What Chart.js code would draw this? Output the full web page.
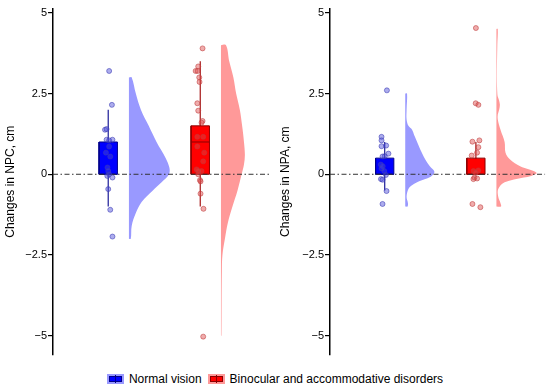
<!DOCTYPE html>
<html>
<head>
<meta charset="utf-8">
<script src="https://cdn.jsdelivr.net/npm/chart.js@4.4.1/dist/chart.umd.min.js"></script>
<style>
  body { margin: 0; background: #fff; }
  #wrap { position: relative; width: 550px; height: 388px; font-family: "Liberation Sans", Arial, sans-serif; }
  #npcChart { position: absolute; left: 0; top: 0; }
  #npaChart { position: absolute; left: 275px; top: 0; }
  #legend { position: absolute; left: 0; top: 372px; width: 550px; display: flex; justify-content: center; align-items: center; font-size: 12px; color: #000; }
  .key { position: relative; display: inline-block; width: 17px; height: 10px; margin-right: 5px; }
  .key i { position: absolute; left: 2px; top: 2px; width: 11px; height: 4px; border: 1px solid; }
  .key i:after { content: ""; position: absolute; left: 5px; top: -2px; width: 1px; height: 8px; }
  .key.blue { background: #9999ff; }
  .key.blue i { background: #0000ff; border-color: #00008b; }
  .key.blue i:after { background: #00008b; }
  .key.red { background: #ff9999; margin-left: 6px; }
  .key.red i { background: #ff0000; border-color: #8b0000; }
  .key.red i:after { background: #8b0000; }
</style>
</head>
<body>
<div id="wrap">
  <canvas id="npcChart" width="275" height="362"></canvas>
  <canvas id="npaChart" width="275" height="362"></canvas>
  <div id="legend">
    <span class="key blue"><i></i></span><span>Normal vision</span>
    <span class="key red"><i></i></span><span>Binocular and accommodative disorders</span>
  </div>
</div>
<script>
// groups and axis
const groups = ['Normal vision', 'Binocular and accommodative disorders'];
const groupX = [1, 2];
const yTicks = [-5, -2.5, 0, 2.5, 5];

// NPC changes (cm), points with their horizontal jitter
const npcNormal = [3.2, 2.15, 1.38, 1.4, 1.07, 1.07, 1.05, 0.86, 0.67, 0.55, 0.21, 0.1, 0.0, -0.05, -0.1, -0.46, -1.1, -1.93];
const npcNormalJit = [0.01, 0.04, -0.035, -0.018, -0.018, 0.046, 0.01, 0.01, -0.025, 0.022, -0.008, 0, 0.01, -0.01, 0.046, 0, 0.022, 0.046];
const npcBino = [3.9, 3.34, 3.2, 3.2, 3.0, 2.86, 2.2, 1.97, 1.65, 1.6, 1.16, 1.16, 0.86, 0.67, 0.4, 0.15, 0.1, 0.1, 0.0, -0.18, -0.22, -0.6, -1.07, -5.03];
const npcBinoJit = [0.025, -0.022, -0.05, -0.029, -0.011, -0.008, -0.032, -0.022, 0.025, 0.014, -0.032, 0.032, -0.032, 0.043, 0.032, -0.04, -0.022, 0.014, -0.022, -0.003, 0.003, 0.003, 0.035, 0.032];
// box stats: low whisker, q1, median, q3, high whisker
const npcBox = [[-1, 0, 0, 1, 2], [-1, 0, 1, 1.5, 3.5]];
// half-violin density width read at y levels
const npcNormalDensY = [3.0, 2.5, 2.0, 1.5, 1.0, 0.5, 0.2, 0, -0.25, -0.5, -0.85, -1.2, -1.6, -2.0];
const npcNormalDensW = [0.03, 0.075, 0.13, 0.215, 0.30, 0.40, 0.44, 0.435, 0.355, 0.26, 0.14, 0.075, 0.03, 0.02];
const npcBinoDensY = [4.0, 3.5, 3.0, 2.5, 2.0, 1.5, 1.0, 0.6, 0.3, 0, -0.5, -1.0, -1.5, -2.0, -2.5, -3, -4, -5];
const npcBinoDensW = [0.055, 0.09, 0.135, 0.165, 0.205, 0.23, 0.25, 0.26, 0.25, 0.225, 0.18, 0.125, 0.075, 0.043, 0.016, 0.01, 0.007, 0.005];

// NPA changes (cm)
const npaNormal = [2.6, 1.16, 1.05, 0.89, 0.87, 0.64, 0.56, 0.55, 0.3, 0.25, 0.18, 0.1, -0.02, -0.15, -0.17, -0.52, -0.92];
const npaNormalJit = [0.024, -0.035, -0.035, 0.016, -0.035, 0.041, 0, -0.024, -0.043, -0.022, -0.035, -0.005, 0.013, -0.041, -0.024, 0.02, -0.024];
const npaBino = [4.53, 2.2, 2.15, 1.05, 1.01, 0.84, 0.67, 0.58, 0.12, 0.1, 0.05, -0.1, -0.13, -0.15, -0.92, -1.02];
const npaBinoJit = [0, -0.002, 0.027, 0.038, -0.038, 0.027, 0.013, -0.046, 0.027, -0.027, -0.002, -0.016, 0.013, -0.027, -0.038, 0.049];
const npaBox = [[-0.5, 0, 0, 0.5, 1], [0, 0, 0, 0.5, 1]];
const npaNormalDensY = [2.5, 2.0, 1.7, 1.5, 1.38, 1.2, 1.07, 0.77, 0.46, 0.25, 0.08, -0.05, -0.15, -0.25, -0.35, -0.46, -0.7, -0.9, -1.0];
const npaNormalDensW = [0.02, 0.015, 0.015, 0.035, 0.075, 0.1, 0.12, 0.165, 0.22, 0.27, 0.32, 0.29, 0.22, 0.13, 0.07, 0.035, 0.015, 0.03, 0.025];
const npaBinoDensY = [4.5, 4.0, 3.0, 2.5, 2.4, 2.3, 2.15, 2.0, 1.85, 1.7, 1.38, 1.0, 0.67, 0.46, 0.25, 0.05, -0.05, -0.1, -0.25, -0.46, -0.7, -0.9, -1.0];
const npaBinoDensW = [0.015, 0.01, 0.005, 0.01, 0.015, 0.028, 0.038, 0.03, 0.015, 0.015, 0.045, 0.09, 0.1, 0.15, 0.26, 0.44, 0.38, 0.3, 0.09, 0.02, 0.02, 0.045, 0.05];

const X_MIN = 0.4, X_MAX = 2.76, Y_MIN = -5.58, Y_MAX = 5.12;
const BOX_HALF = 0.1, DENS_OFFSET = 0.225;
const boxFill = ['#0000ff', '#ff0000'];
const boxEdge = ['#00008b', '#8b0000'];
const whiskerCol = ['#1c1c96', '#a51515'];
const densCol = ['#9999ff', '#ff9999'];
const ptFill = ['rgba(70,70,215,0.45)', 'rgba(220,70,70,0.45)'];
const ptEdge = ['rgba(60,60,180,0.7)', 'rgba(190,60,60,0.7)'];

Chart.defaults.font.family = '"Liberation Sans", Arial, sans-serif';
Chart.defaults.color = '#000';

function groupDatasets(i, vals, jit, box, densY, densW){
    const cx = groupX[i];
    const base = cx + DENS_OFFSET;
    const dens = [{x: base, y: densY[0]}];
    densY.forEach((y, k) => dens.push({x: base + densW[k], y: y}));
    dens.push({x: base, y: densY[densY.length - 1]});
    const [lo, q1, med, q3, hi] = box;
    return [
        {data: dens, backgroundColor: densCol[i], borderWidth: 0, fill: 'shape', tension: 0.35, pointRadius: 0, order: 6},
        {data: [{x: cx, y: lo}, {x: cx, y: hi}], borderColor: whiskerCol[i], borderWidth: 1.2, pointRadius: 0, fill: false, order: 5},
        {data: [{x: cx - BOX_HALF, y: q1}, {x: cx + BOX_HALF, y: q1}, {x: cx + BOX_HALF, y: q3}, {x: cx - BOX_HALF, y: q3}, {x: cx - BOX_HALF, y: q1}],
         backgroundColor: boxFill[i], borderColor: boxEdge[i], borderWidth: 1, fill: 'shape', tension: 0, pointRadius: 0, order: 4},
        {data: [{x: cx - BOX_HALF, y: med}, {x: cx + BOX_HALF, y: med}], borderColor: boxEdge[i], borderWidth: 1, pointRadius: 0, fill: false, order: 3},
        {data: vals.map((v, k) => ({x: cx + jit[k], y: v})), showLine: false, pointRadius: 2.5, pointBackgroundColor: ptFill[i],
         pointBorderColor: ptEdge[i], pointBorderWidth: 0.8, order: 1}
    ];
}

function drawPanel(id, title, sets, axisWidth, padRight){
    let datasets = [];
    sets.forEach((s, i) => { datasets = datasets.concat(groupDatasets(i, ...s)); });
    // dash-dot reference line at zero
    datasets.push({data: [{x: X_MIN, y: 0}, {x: X_MAX, y: 0}], borderColor: '#333', borderWidth: 1,
        borderDash: [5, 2.5, 1.5, 2.5], pointRadius: 0, fill: false, order: 2});
    new Chart(document.getElementById(id).getContext('2d'), {
        type: 'line',
        data: {datasets: datasets},
        options: {
            responsive: false, animation: false, devicePixelRatio: 1,
            layout: {padding: {top: 9, bottom: 0, left: 0, right: padRight}},
            plugins: {legend: {display: false}, tooltip: {enabled: false}},
            scales: {
                x: {type: 'linear', min: X_MIN, max: X_MAX, display: false},
                y: {
                    type: 'linear', min: Y_MIN, max: Y_MAX,
                    afterBuildTicks: ax => { ax.ticks = yTicks.map(v => ({value: v})); },
                    afterFit: ax => { ax.width = axisWidth; },
                    grid: {drawOnChartArea: false, drawTicks: true, tickLength: 5, color: '#000', lineWidth: 1.2},
                    border: {display: true, color: '#000', width: 1.5},
                    ticks: {font: {size: 11}, padding: 1, color: '#000',
                        callback: v => v < 0 ? '\u2212' + Math.abs(v) : String(v)},
                    title: {display: true, text: title, font: {size: 12}, color: '#000', padding: {top: 3, bottom: 0}}
                }
            }
        }
    });
}

drawPanel('npcChart', 'Changes in NPC, cm', [
    [npcNormal, npcNormalJit, npcBox[0], npcNormalDensY, npcNormalDensW],
    [npcBino, npcBinoJit, npcBox[1], npcBinoDensY, npcBinoDensW]
], 53, 3);

drawPanel('npaChart', 'Changes in NPA, cm', [
    [npaNormal, npaNormalJit, npaBox[0], npaNormalDensY, npaNormalDensW],
    [npaBino, npaBinoJit, npaBox[1], npaBinoDensY, npaBinoDensW]
], 55, 2);
</script>
</body>
</html>
